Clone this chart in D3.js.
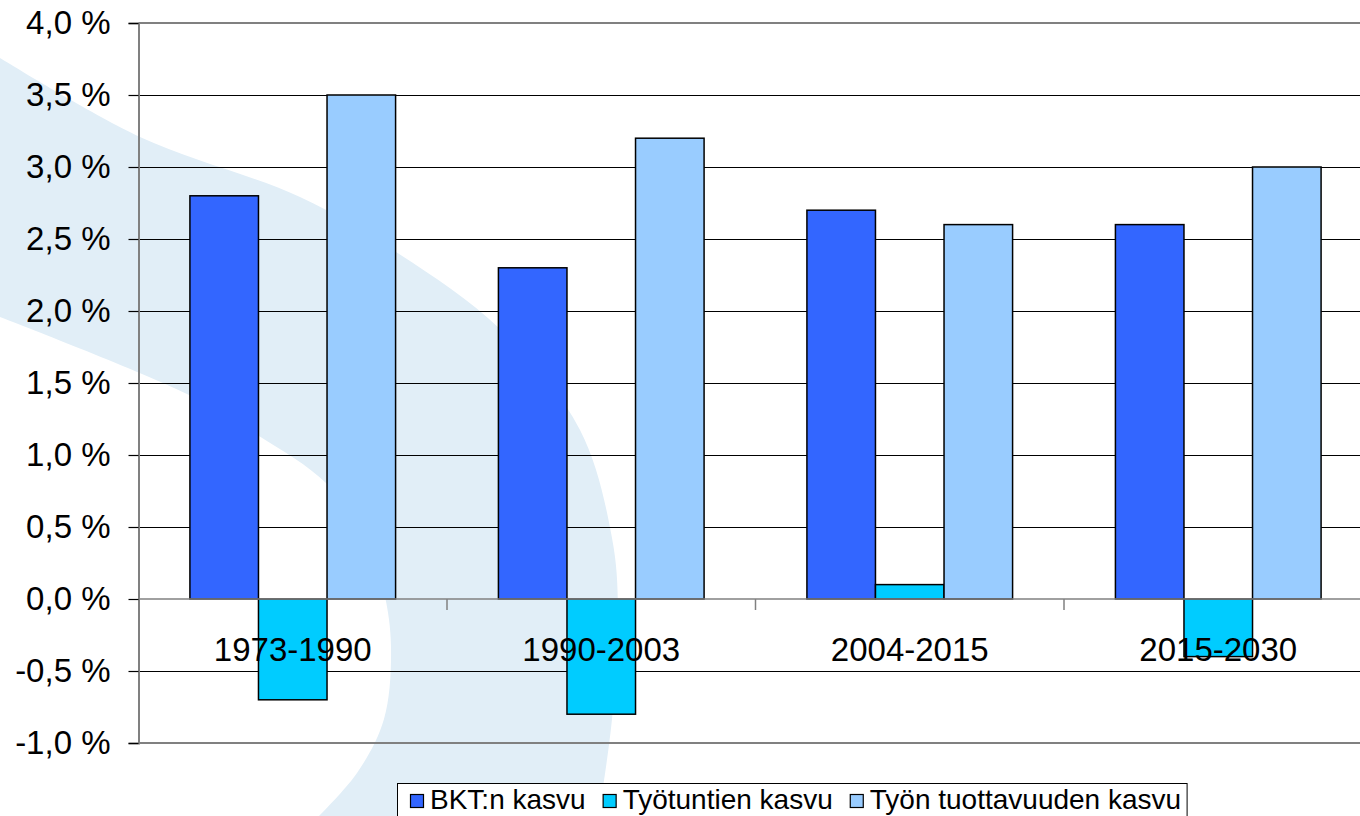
<!DOCTYPE html>
<html>
<head>
<meta charset="utf-8">
<script src="https://cdn.jsdelivr.net/npm/d3@7"></script>
<style>
  html, body { margin: 0; padding: 0; background: #fff; overflow: hidden; }
  text { font-family: "Liberation Sans", Arial, sans-serif; fill: #000; }
</style>
</head>
<body>
<div id="chart"></div>
<script>
const categories = ['1973-1990', '1990-2003', '2004-2015', '2015-2030']
const seriesNames = ['BKT:n kasvu', 'Työtuntien kasvu', 'Työn tuottavuuden kasvu']
const bktKasvu = [2.8, 2.3, 2.7, 2.6]
const tyotuntienKasvu = [-0.7, -0.8, 0.1, -0.4]
const tuottavuudenKasvu = [3.5, 3.2, 2.6, 3.0]
const yTicks = [-1, -0.5, 0, 0.5, 1, 1.5, 2, 2.5, 3, 3.5, 4]
const colors = ['#3366ff', '#00ccff', '#99ccff']

// background swoosh (decoration behind the plot)
const swooshOuter = [[-5, 55], [140, 137], [300, 197], [393, 250], [500, 329], [580, 430], [612, 538], [618, 610], [612, 719], [598, 820]]
const swooshInner = [[-5, 315], [187, 394], [259, 436], [326, 483], [366, 538], [384, 592], [391, 647], [384, 719], [357, 773], [315, 820]]

const W = 1360
const H = 816
const plot = { left: 138.5, right: 1372.5, top: 23, bottom: 743 }

const svg = d3.select('#chart').append('svg')
  .attr('width', W)
  .attr('height', H)

const line = d3.line().curve(d3.curveCatmullRom)
const outerD = line(swooshOuter)
const innerD = line(swooshInner.slice().reverse())
svg.append('path')
  .attr('d', outerD + 'L' + innerD.slice(1) + 'Z')
  .attr('fill', '#e1eef7')

const x0 = d3.scaleBand()
  .domain(categories)
  .range([plot.left, plot.right])

const x1 = d3.scaleBand()
  .domain(seriesNames)
  .range([0, x0.bandwidth()])
  .paddingOuter(0.75)

const y = d3.scaleLinear()
  .domain([-1, 4])
  .range([plot.bottom, plot.top])

const fi = d3.formatLocale({ decimal: ',', thousands: ' ', grouping: [3], currency: ['', ''], minus: '-' })
const fmt = v => fi.format('.1f')(v) + ' %'

// gridlines
svg.append('g')
  .selectAll('line')
  .data(yTicks.filter(t => t !== -1 && t !== 4 && t !== 0))
  .join('line')
  .attr('x1', plot.left)
  .attr('x2', W)
  .attr('y1', d => Math.round(y(d)) + 0.5)
  .attr('y2', d => Math.round(y(d)) + 0.5)
  .attr('stroke', '#000')
  .attr('stroke-width', 1)

// plot border top / bottom
svg.append('g')
  .selectAll('line')
  .data([-1, 4])
  .join('line')
  .attr('x1', plot.left)
  .attr('x2', W)
  .attr('y1', d => y(d))
  .attr('y2', d => y(d))
  .attr('stroke', '#808080')
  .attr('stroke-width', 2)

// bars
const rows = categories.map((c, i) => ({
  category: c,
  values: [bktKasvu[i], tyotuntienKasvu[i], tuottavuudenKasvu[i]]
}))

svg.append('g')
  .selectAll('g')
  .data(rows)
  .join('g')
  .attr('transform', d => `translate(${x0(d.category)},0)`)
  .selectAll('rect')
  .data(d => d.values.map((v, j) => ({ series: seriesNames[j], value: v, color: colors[j] })))
  .join('rect')
  .attr('x', d => x1(d.series))
  .attr('width', x1.bandwidth())
  .attr('y', d => y(Math.max(0, d.value)))
  .attr('height', d => Math.abs(y(d.value) - y(0)))
  .attr('fill', d => d.color)
  .attr('stroke', '#000')
  .attr('stroke-width', 1.5)

// x axis (zero line)
const xAxis = svg.append('g')
  .attr('transform', `translate(0,${y(0)})`)
xAxis.append('line')
  .attr('x1', plot.left)
  .attr('x2', W)
  .attr('stroke', '#808080')
  .attr('stroke-width', 1.5)
xAxis.selectAll('line.tick')
  .data(categories.slice(1))
  .join('line')
  .attr('class', 'tick')
  .attr('x1', d => x0(d))
  .attr('x2', d => x0(d))
  .attr('y1', 0)
  .attr('y2', 11)
  .attr('stroke', '#808080')
  .attr('stroke-width', 1.5)

// y axis
const yAxis = svg.append('g')
  .attr('transform', `translate(${plot.left},0)`)
  .call(d3.axisLeft(y).tickValues(yTicks).tickFormat(fmt).tickSize(10).tickPadding(18))
yAxis.select('.domain')
  .attr('stroke', '#808080')
  .attr('stroke-width', 2)
yAxis.selectAll('.tick line')
  .attr('stroke', '#000')
  .attr('stroke-width', 1.2)
yAxis.selectAll('.tick text')
  .style('font-family', '"Liberation Sans", Arial, sans-serif')
  .style('font-size', '33px')
  .attr('fill', '#000')

// category labels
svg.append('g')
  .selectAll('text')
  .data(categories)
  .join('text')
  .attr('x', d => x0(d) + x0.bandwidth() / 2)
  .attr('y', y(0) + 62)
  .attr('text-anchor', 'middle')
  .style('font-size', '33px')
  .text(d => d)

// legend
const legend = svg.append('g')
const legendBox = legend.append('rect')
  .attr('x', 397.5)
  .attr('y', 783.5)
  .attr('height', 40)
  .attr('fill', '#fff')
  .attr('stroke', '#000')
  .attr('stroke-width', 1)

let lx = 410
seriesNames.forEach((name, i) => {
  legend.append('rect')
    .attr('x', lx + 0.5)
    .attr('y', 794.5)
    .attr('width', 13)
    .attr('height', 13)
    .attr('fill', colors[i])
    .attr('stroke', '#000')
    .attr('stroke-width', 1.2)
  const t = legend.append('text')
    .attr('x', lx + 20)
    .attr('y', 809)
    .style('font-size', '28px')
    .text(name)
  const w = t.node().getComputedTextLength()
  lx = lx + 20 + w + 17
})
legendBox.attr('width', lx - 17 + 6 - 397.5)
</script>
</body>
</html>
